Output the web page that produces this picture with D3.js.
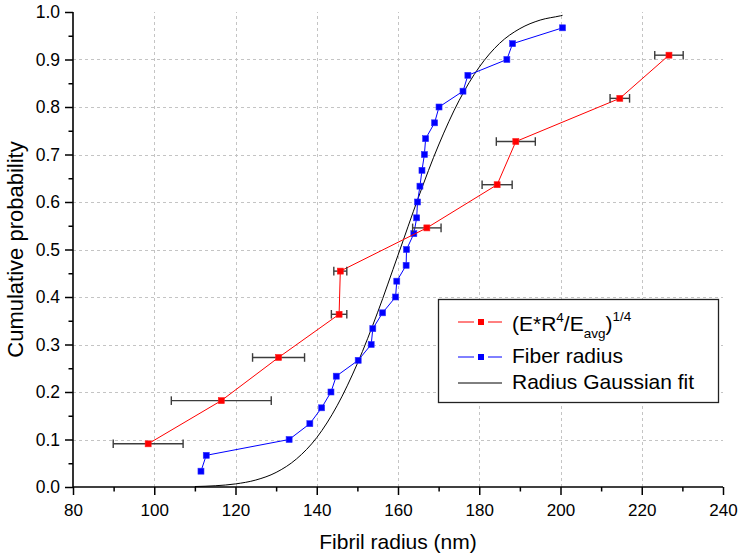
<!DOCTYPE html>
<html>
<head>
<meta charset="utf-8">
<script src="https://cdn.jsdelivr.net/npm/d3@7"></script>
<style>
  html, body { margin: 0; padding: 0; background: #fff; }
  svg { display: block; font-family: "Liberation Sans", Arial, sans-serif; }
</style>
</head>
<body>
<svg id="chart" width="740" height="557"></svg>
<script>
// ---------- data ----------
const seriesNames = ["Fiber radius", "Radius Gaussian fit"];

// red series: (E*R^4/E_avg)^(1/4), x value, symmetric x error, cumulative probability
const redX   = [98.5, 116.5, 130.6, 145.5, 145.8, 167.1, 184.4, 189.0, 214.6, 226.7];
const redErr = [8.6, 12.3, 6.4, 1.9, 1.6, 3.5, 3.7, 4.8, 2.4, 3.5];
const redY   = [0.0909, 0.1818, 0.2727, 0.3636, 0.4545, 0.5455, 0.6364, 0.7273, 0.8182, 0.9091];

// blue series: fiber radius
const blueX = [111.5, 112.8, 133.2, 138.3, 141.2, 143.5, 144.8, 150.2, 153.4, 153.8,
               156.2, 159.4, 159.7, 162.0, 162.1, 163.9, 164.6, 164.8, 165.4, 165.9,
               166.5, 166.8, 169.0, 170.1, 176.0, 177.2, 186.8, 188.2, 200.5];
const blueY = [0.0333, 0.0667, 0.1, 0.1333, 0.1667, 0.2, 0.2333, 0.2667, 0.3, 0.3333,
               0.3667, 0.4, 0.4333, 0.4667, 0.5, 0.5333, 0.5667, 0.6, 0.6333, 0.6667,
               0.7, 0.7333, 0.7667, 0.8, 0.8333, 0.8667, 0.9, 0.9333, 0.9667];

// black curve: Gaussian fit
const fitX = [110, 115, 120, 125, 130, 135, 140, 145, 150, 155, 160, 165, 170, 175, 180, 185, 190, 195, 200, 200.5];
const fitY = [0.001, 0.0026, 0.0065, 0.0147, 0.0307, 0.059, 0.104, 0.171, 0.26, 0.368, 0.488, 0.609, 0.72, 0.813, 0.884, 0.934, 0.965, 0.983, 0.992, 0.993];

// axes
const xMajorTicks = [80, 100, 120, 140, 160, 180, 200, 220, 240];
const xMinorTicks = [90, 110, 130, 150, 170, 190, 210, 230];
const yMajorTicks = [0, 0.1, 0.2, 0.3, 0.4, 0.5, 0.6, 0.7, 0.8, 0.9, 1.0];
const yMinorTicks = [0.05, 0.15, 0.25, 0.35, 0.45, 0.55, 0.65, 0.75, 0.85, 0.95];
const xGrid = [100, 120, 140, 160, 180, 200, 220];
const yGrid = [0.1, 0.2, 0.3, 0.4, 0.5, 0.6, 0.7, 0.8, 0.9];

// ---------- drawing ----------
const svg = d3.select("#chart");
const L = 73, R = 723, T = 12, B = 487;
const x = d3.scaleLinear().domain([80, 240]).range([L, R]);
const y = d3.scaleLinear().domain([0, 1]).range([B, T]);

// grid
const grid = svg.append("g").attr("stroke", "#c4c4c4").attr("stroke-width", 1)
  .attr("stroke-dasharray", "3,3").attr("fill", "none");
grid.selectAll("line.vx").data(xGrid).join("line").attr("class", "vx")
  .attr("x1", d => Math.round(x(d)) + 0.5).attr("x2", d => Math.round(x(d)) + 0.5)
  .attr("y1", B).attr("y2", T);
grid.selectAll("line.hy").data(yGrid).join("line").attr("class", "hy")
  .attr("x1", L).attr("x2", R)
  .attr("y1", d => Math.round(y(d)) + 0.5).attr("y2", d => Math.round(y(d)) + 0.5);

// axes
const fmtX = d3.format("d");
const fmtY = d3.format(".1f");
const gx = svg.append("g").attr("transform", `translate(0,${B})`)
  .call(d3.axisBottom(x).tickValues(xMajorTicks).tickSize(8).tickPadding(9).tickFormat(fmtX));
const gxm = svg.append("g").attr("transform", `translate(0,${B})`)
  .call(d3.axisBottom(x).tickValues(xMinorTicks).tickSize(4.5).tickFormat(""));
const gy = svg.append("g").attr("transform", `translate(${L},0)`)
  .call(d3.axisLeft(y).tickValues(yMajorTicks).tickSize(8).tickPadding(5).tickFormat(fmtY));
const gym = svg.append("g").attr("transform", `translate(${L},0)`)
  .call(d3.axisLeft(y).tickValues(yMinorTicks).tickSize(4.5).tickFormat(""));
[gx, gxm, gy, gym].forEach(g => {
  g.select(".domain").remove();
  g.selectAll(".tick line").attr("stroke", "#000").attr("stroke-width", 1.5);
  g.selectAll(".tick text").attr("fill", "#000").attr("font-family", "'Liberation Sans', Arial, sans-serif");
});
gx.selectAll(".tick text").attr("font-size", 17);
gy.selectAll(".tick text").attr("font-size", 17.5);
svg.append("line").attr("x1", L).attr("x2", R).attr("y1", B).attr("y2", B)
  .attr("stroke", "#000").attr("stroke-width", 1.6);
svg.append("line").attr("x1", L).attr("x2", L).attr("y1", T).attr("y2", B)
  .attr("stroke", "#000").attr("stroke-width", 1.6);

// axis titles
svg.append("text").attr("x", (L + R) / 2).attr("y", 549).attr("text-anchor", "middle")
  .attr("font-size", 21).attr("fill", "#000").text("Fibril radius (nm)");
svg.append("text").attr("transform", `translate(23,${(T + B) / 2}) rotate(-90)`)
  .attr("text-anchor", "middle").attr("font-size", 22).attr("fill", "#000")
  .text("Cumulative probability");

// gaussian fit curve
const fitData = fitX.map((v, i) => [v, fitY[i]]);
svg.append("path").datum(fitData)
  .attr("fill", "none").attr("stroke", "#000").attr("stroke-width", 1)
  .attr("d", d3.line().x(d => x(d[0])).y(d => y(d[1])).curve(d3.curveMonotoneX));

// blue series
const blueData = blueX.map((v, i) => [v, blueY[i]]);
svg.append("path").datum(blueData)
  .attr("fill", "none").attr("stroke", "#0000ff").attr("stroke-width", 1)
  .attr("d", d3.line().x(d => x(d[0])).y(d => y(d[1])));
const ms = 6;
svg.append("g").selectAll("rect").data(blueData).join("rect")
  .attr("x", d => x(d[0]) - ms / 2).attr("y", d => y(d[1]) - ms / 2)
  .attr("width", ms).attr("height", ms).attr("fill", "#0000ff")
  .attr("stroke", "#3030ff").attr("stroke-width", 0.6);

// red series
const redData = redX.map((v, i) => [v, redY[i], redErr[i]]);
svg.append("path").datum(redData)
  .attr("fill", "none").attr("stroke", "#ff0000").attr("stroke-width", 1)
  .attr("d", d3.line().x(d => x(d[0])).y(d => y(d[1])));
const eb = svg.append("g").attr("stroke", "#3c3c3c").attr("stroke-width", 1.4).attr("fill", "none");
eb.selectAll("line.h").data(redData).join("line").attr("class", "h")
  .attr("x1", d => x(d[0] - d[2])).attr("x2", d => x(d[0] + d[2]))
  .attr("y1", d => y(d[1])).attr("y2", d => y(d[1]));
eb.selectAll("line.cl").data(redData).join("line").attr("class", "cl")
  .attr("x1", d => x(d[0] - d[2])).attr("x2", d => x(d[0] - d[2]))
  .attr("y1", d => y(d[1]) - 4.3).attr("y2", d => y(d[1]) + 4.3);
eb.selectAll("line.cr").data(redData).join("line").attr("class", "cr")
  .attr("x1", d => x(d[0] + d[2])).attr("x2", d => x(d[0] + d[2]))
  .attr("y1", d => y(d[1]) - 4.3).attr("y2", d => y(d[1]) + 4.3);
svg.append("g").selectAll("rect").data(redData).join("rect")
  .attr("x", d => x(d[0]) - ms / 2).attr("y", d => y(d[1]) - ms / 2)
  .attr("width", ms).attr("height", ms).attr("fill", "#ff0000")
  .attr("stroke", "#ff2020").attr("stroke-width", 0.6);

// legend
const lg = svg.append("g");
lg.append("rect").attr("x", 438.5).attr("y", 299.5).attr("width", 280).attr("height", 103)
  .attr("fill", "#fff").attr("stroke", "#222").attr("stroke-width", 1.3);
const legendRows = [
  { color: "#ff0000", marker: true, ly: 322 },
  { color: "#0000ff", marker: true, ly: 357 },
  { color: "#000", marker: false, ly: 383 }
];
legendRows.forEach(r => {
  if (r.marker) {
    lg.append("line").attr("x1", 458).attr("x2", 474).attr("y1", r.ly).attr("y2", r.ly).attr("stroke", r.color).attr("stroke-width", 1);
    lg.append("line").attr("x1", 488).attr("x2", 502).attr("y1", r.ly).attr("y2", r.ly).attr("stroke", r.color).attr("stroke-width", 1);
    lg.append("rect").attr("x", 481 - ms / 2).attr("y", r.ly - ms / 2).attr("width", ms).attr("height", ms).attr("fill", r.color);
  } else {
    lg.append("line").attr("x1", 458).attr("x2", 502).attr("y1", r.ly).attr("y2", r.ly).attr("stroke", r.color).attr("stroke-width", 1);
  }
});
// row 1 with super/subscripts
const t1 = lg.append("text").attr("x", 512).attr("y", 331).attr("font-size", 21).attr("fill", "#000");
t1.append("tspan").text("(E*R");
t1.append("tspan").attr("font-size", 13.5).attr("dy", -9).text("4");
t1.append("tspan").attr("dy", 9).text("/E");
t1.append("tspan").attr("font-size", 13.5).attr("dy", 7).text("avg");
t1.append("tspan").attr("dy", -7).text(")");
t1.append("tspan").attr("font-size", 13.5).attr("dy", -10).text("1/4");
lg.append("text").attr("x", 512).attr("y", 363).attr("font-size", 21).attr("fill", "#000").text(seriesNames[0]);
lg.append("text").attr("x", 512).attr("y", 389).attr("font-size", 21).attr("fill", "#000").text(seriesNames[1]);
</script>
</body>
</html>
